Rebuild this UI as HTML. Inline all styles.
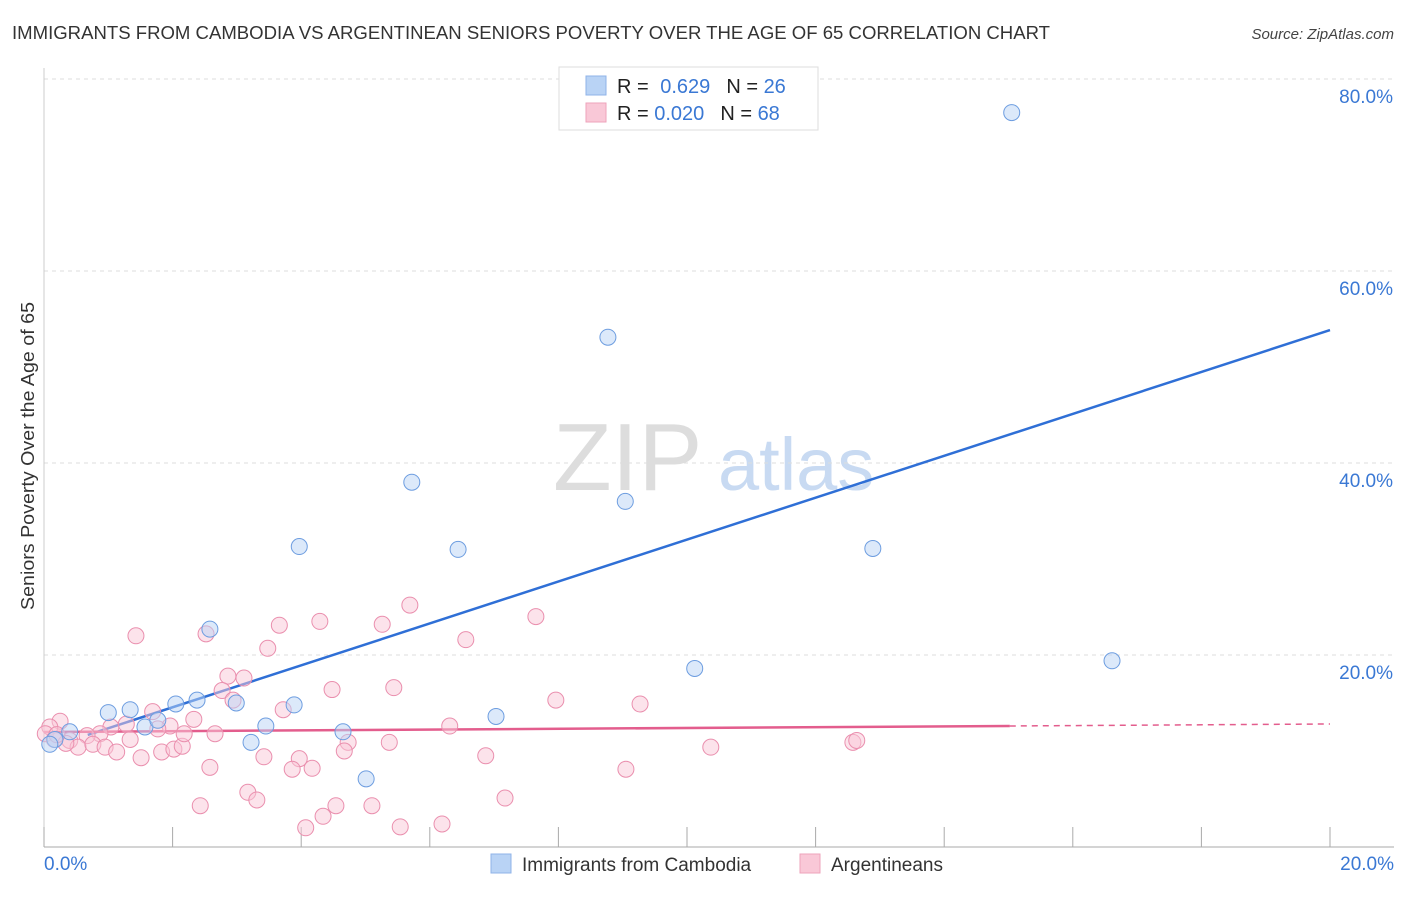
<!DOCTYPE html>
<html><head><meta charset="utf-8"><style>
body{margin:0;background:#fff;font-family:"Liberation Sans",sans-serif;}
svg text{font-family:"Liberation Sans",sans-serif;}
</style></head><body>
<svg id="c" width="1406" height="892" xmlns="http://www.w3.org/2000/svg">
<text x="12" y="39" font-size="18" fill="#333" textLength="1038" lengthAdjust="spacingAndGlyphs">IMMIGRANTS FROM CAMBODIA VS ARGENTINEAN SENIORS POVERTY OVER THE AGE OF 65 CORRELATION CHART</text>
<text x="1394" y="39" font-size="15" fill="#444" font-style="italic" text-anchor="end">Source: ZipAtlas.com</text>
<text x="34" y="456" font-size="18" fill="#333" text-anchor="middle" textLength="308" lengthAdjust="spacingAndGlyphs" transform="rotate(-90 34 456)">Seniors Poverty Over the Age of 65</text>
<g><text x="553" y="490" font-size="96" fill="#ddd" font-family="Liberation Serif">ZIP</text><text x="718" y="490" font-size="74" fill="#c8daf2">atlas</text></g>
<g id="grid"></g><g id="trend"></g><g id="pts"></g>
<g>
<rect x="559" y="67" width="259" height="63" fill="#fff" stroke="#ddd"/>
<rect x="586" y="76" width="20" height="19" fill="#b9d3f5" stroke="#8fb3e8"/>
<rect x="586" y="103" width="20" height="19" fill="#f9c8d7" stroke="#eea3bb"/>
<text x="617" y="93" font-size="20" fill="#222">R = <tspan fill="#3a78d4" dx="6">0.629</tspan><tspan fill="#222" dx="16">N = </tspan><tspan fill="#3a78d4">26</tspan></text>
<text x="617" y="120" font-size="20" fill="#222">R = <tspan fill="#3a78d4">0.020</tspan><tspan fill="#222" dx="16">N = </tspan><tspan fill="#3a78d4">68</tspan></text>
</g>
<g>
<rect x="491" y="854" width="20" height="19" fill="#b9d3f5" stroke="#8fb3e8"/>
<text x="522" y="871" font-size="19" fill="#333">Immigrants from Cambodia</text>
<rect x="800" y="854" width="20" height="19" fill="#f9c8d7" stroke="#eea3bb"/>
<text x="831" y="871" font-size="19" fill="#333">Argentineans</text>
</g>
</svg>
<script>
const yTicks=[20,40,60,80];
const xTickLabels=["0.0%","20.0%"];
const blueX=[15.05,8.77,5.72,9.04,3.97,6.44,12.89,16.61,10.12,2.58,2.99,2.38,2.05,3.89,3.45,4.65,7.03,3.22,5.01,1.34,1.0,1.57,1.77,0.40,0.17,0.09];
const blueY=[76.5,53.1,38.0,36.0,31.3,31.0,31.1,19.4,18.6,22.7,15.0,15.3,14.9,14.8,12.6,12.0,13.6,10.9,7.1,14.3,14.0,12.5,13.2,12.0,11.2,10.7];
const pinkX=[1.43,2.52,3.66,4.29,3.48,5.26,5.69,6.56,7.65,3.11,2.86,2.77,2.94,4.48,5.44,7.96,9.27,3.72,1.69,2.33,1.96,1.28,1.04,0.87,0.67,0.25,0.09,0.02,0.40,0.53,0.76,0.95,1.13,1.51,1.83,2.02,2.15,2.66,2.18,1.77,4.73,4.67,5.37,6.31,6.87,3.97,3.42,3.86,4.17,2.58,3.17,3.31,2.43,4.54,5.10,7.17,4.34,4.07,5.54,6.19,9.05,10.37,12.58,12.64,0.16,0.34,0.2,1.34];
const pinkY=[22.0,22.2,23.1,23.5,20.7,23.2,25.2,21.6,24.0,17.6,17.8,16.3,15.3,16.4,16.6,15.3,14.9,14.3,14.1,13.3,12.6,12.8,12.5,11.8,11.6,13.1,12.5,11.8,11.1,10.4,10.7,10.4,9.9,9.3,9.9,10.2,10.5,11.8,11.8,12.3,10.9,10.0,10.9,12.6,9.5,9.2,9.4,8.1,8.2,8.3,5.7,4.9,4.3,4.3,4.3,5.1,3.2,2.0,2.1,2.4,8.1,10.4,10.9,11.1,11.2,10.8,11.7,11.2];
const blueTrend=[10.19,2.183,0.68,20];
const pinkTrend=[11.98,0.0417,0,15.02,20];
const X=v=>44+v*64.3, Y=v=>847-v*9.6;
const NS="http://www.w3.org/2000/svg";
function mk(p,t,a){const e=document.createElementNS(NS,t);for(const k in a)e.setAttribute(k,a[k]);document.getElementById(p).appendChild(e);return e;}
yTicks.forEach(t=>{
 const l=mk('grid','line',{x1:44,x2:1394,y1:Y(t),y2:Y(t),stroke:'#ddd','stroke-dasharray':'4,4'});
 
 
 const tx=mk('grid','text',{x:1393,y:Y(t)+24,'font-size':19,fill:'#3a78d4','text-anchor':'end'});tx.textContent=t.toFixed(1)+'%';
 
 
});
const ax=mk('grid','line',{x1:44,x2:1394,y1:847,y2:847,stroke:'#aaa'});


const ay=mk('grid','line',{x1:44,x2:44,y1:68,y2:847,stroke:'#ccc'});


for(let i=0;i<=10;i++){const t=mk('grid','line',{x1:X(i*2),x2:X(i*2),y1:827,y2:847,stroke:'#aaa'});
 
 }
xTickLabels.forEach((s,i)=>{const t=mk('grid','text',{x:i?1394:44,y:870,'font-size':19,fill:'#3a78d4','text-anchor':i?'end':'start'});t.textContent=s;
 
 });
function pts(xs,ys,fill,stroke,name){xs.forEach((x,i)=>{const c=mk('pts','circle',{cx:X(x),cy:Y(ys[i]),r:8,fill:fill,'fill-opacity':0.5,stroke:stroke,'stroke-width':1});
 
 });}
pts(pinkX,pinkY,'#f9c8d7','#ea8fae','point-argentineans');
pts(blueX,blueY,'#b9d3f5','#6d9de0','point-cambodia');
const b=mk('trend','line',{x1:X(blueTrend[2]),y1:Y(blueTrend[0]+blueTrend[1]*blueTrend[2]),x2:X(blueTrend[3]),y2:Y(blueTrend[0]+blueTrend[1]*blueTrend[3]),stroke:'#2f6fd6','stroke-width':2.5});


const p1=mk('trend','line',{x1:X(pinkTrend[2]),y1:Y(pinkTrend[0]),x2:X(pinkTrend[3]),y2:Y(pinkTrend[0]+pinkTrend[1]*pinkTrend[3]),stroke:'#e35d8d','stroke-width':2.5});


const p2=mk('trend','line',{x1:X(pinkTrend[3]),y1:Y(pinkTrend[0]+pinkTrend[1]*pinkTrend[3]),x2:X(pinkTrend[4]),y2:Y(pinkTrend[0]+pinkTrend[1]*pinkTrend[4]),stroke:'#e35d8d','stroke-width':1.5,'stroke-dasharray':'6,5'});


</script>
</body></html>
